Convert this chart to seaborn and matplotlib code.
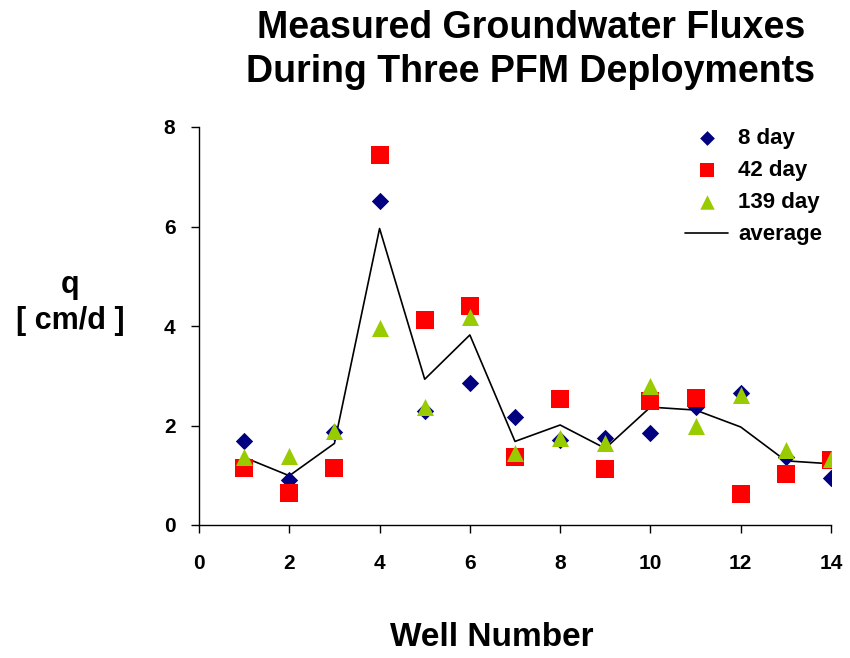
import numpy as np
import pandas as pd
import matplotlib
matplotlib.use("Agg")
import matplotlib.pyplot as plt
import seaborn as sns

# values
wells = [1, 2, 3, 4, 5, 6, 7, 8, 9, 10, 11, 12, 13, 14]
q_8day = [1.68, 0.91, 1.86, 6.52, 2.29, 2.86, 2.18, 1.71, 1.74, 1.84, 2.38, 2.66, 1.36, 0.95]
q_42day = [1.14, 0.64, 1.14, 7.43, 4.12, 4.41, 1.37, 2.53, 1.12, 2.49, 2.56, 0.62, 1.03, 1.31]
q_139day = [1.37, 1.39, 1.88, 3.96, 2.38, 4.19, 1.44, 1.74, 1.64, 2.80, 1.99, 2.61, 1.51, 1.32]
q_avg = [1.36, 0.99, 1.64, 5.96, 2.93, 3.82, 1.68, 2.01, 1.54, 2.37, 2.31, 1.97, 1.29, 1.23]

series = ["8 day", "42 day", "139 day"]
colors = {"8 day": "#000080", "42 day": "#FF0000", "139 day": "#99CC00"}
markers = {"8 day": "D", "42 day": "s", "139 day": "^"}
sizes = {"8 day": 78, "42 day": 150, "139 day": 150}

df = pd.DataFrame({
    "well": wells * 3,
    "q": q_8day + q_42day + q_139day,
    "deployment": [s for s in series for _ in wells],
})
avg_df = pd.DataFrame({"well": wells, "q": q_avg})

sns.set_style("white")
plt.rcParams["font.family"] = ["Liberation Sans", "DejaVu Sans"]
plt.rcParams["font.weight"] = "bold"
for key in ["text.color", "axes.labelcolor", "xtick.color", "ytick.color"]:
    plt.rcParams[key] = "black"

fig = plt.figure(figsize=(8.5, 6.58), dpi=100)
ax = fig.add_axes([199 / 850, 1 - 525 / 658, 632 / 850, 398 / 658])

sns.lineplot(data=avg_df, x="well", y="q", color="black", lw=1.2, ax=ax,
             label="average", zorder=2)
for s in series:
    sub = df[df["deployment"] == s]
    sns.scatterplot(data=sub, x="well", y="q", color=colors[s], marker=markers[s],
                    s=sizes[s], linewidth=0, ax=ax, label=s, zorder=3)

ax.set_xlim(0, 14)
ax.set_ylim(0, 8)
ax.set_xticks(range(0, 15, 2))
ax.set_yticks(range(0, 9, 2))
ax.tick_params(axis="both", direction="out", length=6, width=1, labelsize=15,
               bottom=True, left=True, colors="black")
ax.tick_params(axis="x", pad=15)
ax.tick_params(axis="y", pad=11)
for lbl in ax.get_xticklabels() + ax.get_yticklabels():
    lbl.set_fontweight("bold")
sns.despine(ax=ax)
for sp in ["left", "bottom"]:
    ax.spines[sp].set_color("black")
    ax.spines[sp].set_linewidth(1)
ax.set_xlabel("")
ax.set_ylabel("")

handles, labels = ax.get_legend_handles_labels()
order = [labels.index(l) for l in ["8 day", "42 day", "139 day", "average"]]
ax.legend([handles[i] for i in order], [labels[i] for i in order],
          loc="upper left", bbox_to_anchor=(685 / 850, 1 - 128 / 658),
          bbox_transform=fig.transFigure, frameon=False, markerscale=0.85,
          prop={"size": 16, "weight": "bold"}, handlelength=1.95,
          handletextpad=0.45, labelspacing=0.5, borderpad=0, borderaxespad=0)

fig.text(531 / 850, 1 - 50 / 658, "Measured Groundwater Fluxes\nDuring Three PFM Deployments",
         ha="center", va="center", fontsize=27, fontweight="bold", linespacing=1.25)
fig.text(70 / 850, 1 - 303 / 658, "q\n[ cm/d ]", ha="center", va="center",
         fontsize=22, fontweight="bold", linespacing=1.3)
fig.text(492 / 850, 1 - 638 / 658, "Well Number", ha="center", va="center",
         fontsize=24, fontweight="bold")

fig.savefig("out.png", dpi=100)
